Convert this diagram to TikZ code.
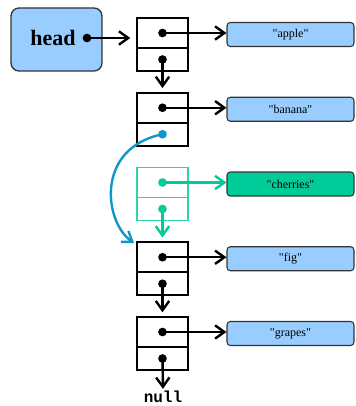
\documentclass[tikz,border=0pt]{standalone}
\usepackage{fontspec}
\setmainfont{Liberation Serif}
\setmonofont{Liberation Mono}
\newfontfamily\strfont{Liberation Serif}[Ligatures=TeXOff]
\usetikzlibrary{arrows.meta}
\definecolor{lblue}{HTML}{99CCFF}
\definecolor{tealc}{RGB}{0,204,153}
\definecolor{tealo}{RGB}{40,215,165}
\definecolor{cblue}{RGB}{17,150,204}
\definecolor{bord}{HTML}{333333}
\begin{document}
\begin{tikzpicture}[x=0.75pt,y=-0.75pt,
  cellt/.style={draw, line width=1.3pt, minimum width=38.25pt, minimum height=22.5pt, inner sep=0pt, outer sep=0pt},
  cellb/.style={draw, line width=1.3pt, minimum width=38.25pt, minimum height=17.25pt, inner sep=0pt, outer sep=0pt},
  strbox/.style={draw=bord, fill=lblue, rounded corners=2.5pt, line width=0.8pt, minimum width=95.25pt, minimum height=18pt, inner sep=0pt, font=\strfont\fontsize{9}{10}\selectfont},
  dotn/.style={circle, fill, inner sep=0pt, minimum size=6.5pt},
  ptr/.style={line width=1.8pt, -{Straight Barb[length=7pt,width=10pt]}},
]
\useasboundingbox (0,0) rectangle (356,406);

% head
\node[draw=bord, fill=lblue, rounded corners=6pt, line width=1pt, minimum width=68.25pt, minimum height=47.25pt] (headbox) at (56.5,39.5) {};
\node[font=\fontsize{16.5}{18}\selectfont\bfseries, inner sep=0pt] (headtxt) at (53,38) {head};
\node[dotn] (hd) at (87,38) {};

% list nodes
\node[cellt] (n1t) at (162.5,33) {};
\node[cellb] (n1b) at (162.5,59.5) {};
\node[cellt] (n2t) at (162.5,107.75) {};
\node[cellb] (n2b) at (162.5,134.25) {};
\node[cellt, draw=tealo] (n3t) at (162.5,182.5) {};
\node[cellb, draw=tealo] (n3b) at (162.5,209) {};
\node[cellt] (n4t) at (162.5,257.25) {};
\node[cellb] (n4b) at (162.5,283.75) {};
\node[cellt] (n5t) at (162.5,332) {};
\node[cellb] (n5b) at (162.5,358.5) {};

% dots
\node[dotn] (d1t) at (n1t.center) {};
\node[dotn] (d1b) at (n1b.center) {};
\node[dotn] (d2t) at (n2t.center) {};
\node[dotn, fill=cblue] (d2b) at (n2b.center) {};
\node[dotn, fill=tealc] (d3t) at (n3t.center) {};
\node[dotn, fill=tealc] (d3b) at (n3b.center) {};
\node[dotn] (d4t) at (n4t.center) {};
\node[dotn] (d4b) at (n4b.center) {};
\node[dotn] (d5t) at (n5t.center) {};
\node[dotn] (d5b) at (n5b.center) {};

% strings
\node[strbox] (s1) at (290.5,34.5) {"apple"};
\node[strbox] (s2) at (290.5,109.25) {"banana"};
\node[strbox, fill=tealc] (s3) at (290.5,184) {"cherries"};
\node[strbox] (s4) at (290.5,258.75) {"fig"};
\node[strbox] (s5) at (290.5,333.5) {"grapes"};

\node[font=\fontsize{12}{13}\selectfont\ttfamily\bfseries, inner sep=0pt] (nul) at (163,397) {null};

% pointers
\draw[ptr, shorten >=5pt] (hd.center) -- (n1t.west |- hd.center);
\draw[ptr] (d1t.center) -- (s1.west |- d1t.center);
\draw[ptr] (d2t.center) -- (s2.west |- d2t.center);
\draw[ptr, tealc] (d3t.center) -- (s3.west |- d3t.center);
\draw[ptr] (d4t.center) -- (s4.west |- d4t.center);
\draw[ptr] (d5t.center) -- (s5.west |- d5t.center);

\draw[ptr, shorten >=3.5pt] (d1b.center) -- (n2t.north);
\draw[ptr, tealc, shorten >=3.5pt] (d3b.center) -- (n4t.north);
\draw[ptr, shorten >=3.5pt] (d4b.center) -- (n5t.north);
\draw[ptr, shorten >=1.5pt] (d5b.center) -- (nul.north);

\coordinate (bend) at (134,243);
\draw[ptr, cblue] (d2b.center) .. controls (95,148) and (104,222) .. (bend);
\end{tikzpicture}
\end{document}
